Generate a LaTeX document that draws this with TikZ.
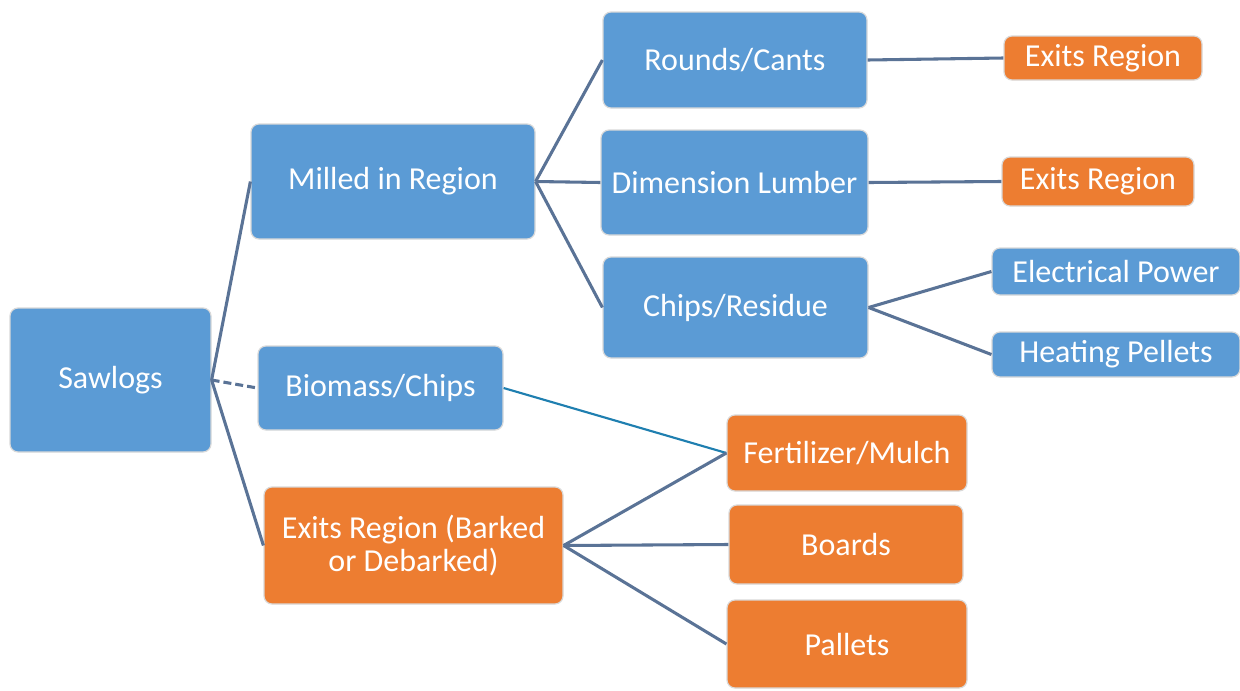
\documentclass[tikz,border=0pt]{standalone}
\usepackage{fontspec}
\setmainfont{Carlito}
\definecolor{boxblue}{HTML}{5B9BD5}
\definecolor{boxorange}{HTML}{ED7D31}
\definecolor{linkc}{HTML}{5A7396}
\definecolor{tealc}{HTML}{1F7FB0}
\definecolor{rimc}{HTML}{D9D9D9}
\begin{document}
\begin{tikzpicture}[x=0.75pt,y=-0.75pt,
  box/.style={rounded corners=6pt,draw=rimc,line width=0.9pt,text=white,
    font=\fontsize{24}{25}\selectfont,align=center,inner sep=0pt},
  bluebox/.style={box,fill=boxblue},
  orangebox/.style={box,fill=boxorange},
  link/.style={draw=linkc,line width=2.3pt},
]
\useasboundingbox (0,0) rectangle (1240,690);
\node[bluebox,minimum width=150.75pt,minimum height=108pt] (saw) at (110.5,380) {Sawlogs};
\node[bluebox,minimum width=213pt,minimum height=86.25pt] (mill) at (393,181.5) {Milled in Region};
\node[bluebox,minimum width=183.75pt,minimum height=63pt] (bio) at (380.5,388) {Biomass/Chips};
\node[orangebox,minimum width=224.25pt,minimum height=87.75pt] (exb) at (413.5,545.5) {Exits Region (Barked\\or Debarked)};
\node[bluebox,minimum width=198pt,minimum height=72pt] (rnd) at (735,60) {Rounds/Cants};
\node[bluebox,minimum width=200.25pt,minimum height=78.75pt] (dim) at (734.5,182.5) {Dimension Lumber};
\node[bluebox,minimum width=198.75pt,minimum height=75.75pt] (chp) at (735.5,307.5) {Chips/Residue};
\node[orangebox,minimum width=148.5pt,minimum height=33pt] (ex1) at (1103,58) {Exits Region};
\node[orangebox,minimum width=144pt,minimum height=36.75pt] (ex2) at (1098,181.5) {Exits Region};
\node[bluebox,minimum width=186pt,minimum height=35.25pt] (elec) at (1116,271.5) {Electrical Power};
\node[bluebox,minimum width=186pt,minimum height=33.75pt] (heat) at (1116,354.5) {Heating Pellets};
\node[orangebox,minimum width=180pt,minimum height=57pt] (fert) at (847,453) {Fertilizer/Mulch};
\node[orangebox,minimum width=175.5pt,minimum height=59.25pt] (brd) at (846,544.5) {Boards};
\node[orangebox,minimum width=180pt,minimum height=66pt] (pal) at (847,644) {Pallets};
% connectors
\draw[link] (saw.east) -- (mill.west);
\draw[link,dash pattern=on 6pt off 3pt] (saw.east) -- (bio.west);
\draw[link] (saw.east) -- (exb.west);
\draw[link] (mill.east) -- (rnd.west);
\draw[link] (mill.east) -- (dim.west);
\draw[link] (mill.east) -- (chp.west);
\draw[link] (rnd.east) -- (ex1.west);
\draw[link] (dim.east) -- (ex2.west);
\draw[link] (chp.east) -- (elec.west);
\draw[link] (chp.east) -- (heat.west);
\draw[draw=tealc,line width=1.6pt] (bio.east) -- (fert.west);
\draw[link] (exb.east) -- (fert.west);
\draw[link] (exb.east) -- (brd.west);
\draw[link] (exb.east) -- (pal.west);
\end{tikzpicture}
\end{document}
